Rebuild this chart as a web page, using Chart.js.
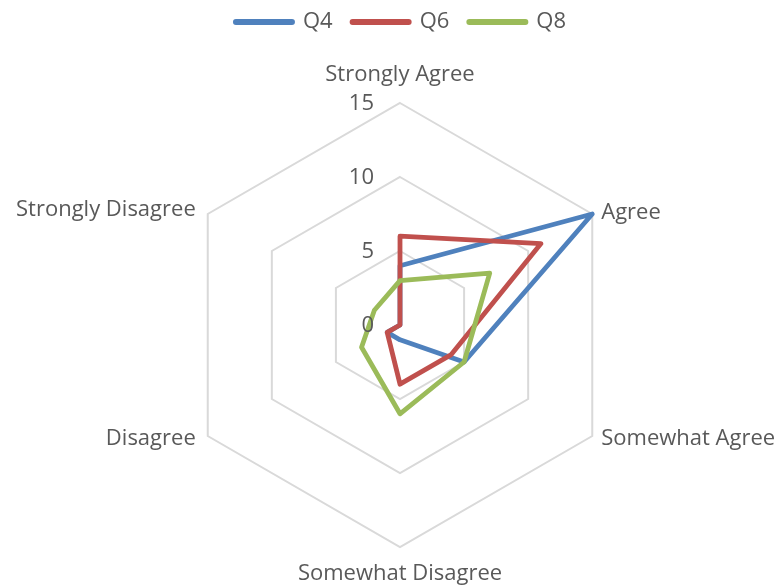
<!DOCTYPE html>
<html><head><meta charset="utf-8">
<script src="https://cdn.jsdelivr.net/npm/chart.js@4"></script>
<style>html,body{margin:0;padding:0;background:#fff;overflow:hidden}</style>
</head><body>
<canvas id="c" width="782" height="587"></canvas>
<script>
const categories = ['Strongly Agree','Agree','Somewhat Agree','Somewhat Disagree','Disagree','Strongly Disagree'];
const seriesNames = ['Q4','Q6','Q8'];
const q4 = [4, 15, 5, 1, 1, 0];
const q6 = [6, 11, 4, 4, 1, 0];
const q8 = [3, 7, 5, 6, 3, 2];
const tickValues = [0, 5, 10, 15];

const colors = ['#4F81BD', '#C0504D', '#9BBB59'];
const textColor = '#595959';
const FAMILY = '"Open Sans", "DejaVu Sans", sans-serif';

const mctx = document.createElement('canvas').getContext('2d');
mctx.font = '20px ' + FAMILY;
const FS = Math.round(20 * 180 / mctx.measureText('Strongly Disagree').width * 2) / 2;

const labelPlugin = {
  id: 'customLabels',
  afterDraw(chart) {
    const s = chart.scales.r;
    const ctx = chart.ctx;
    ctx.save();
    ctx.font = FS + 'px ' + FAMILY;
    ctx.fillStyle = textColor;
    ctx.textAlign = 'right';
    ctx.textBaseline = 'middle';
    s.ticks.forEach(t => {
      const y = s.yCenter - s.getDistanceFromCenterForValue(t.value);
      ctx.fillText(String(t.value), s.xCenter - 26, y + 1);
    });
    chart.data.labels.forEach((lab, i) => {
      const p = s.getPointPosition(i, s.drawingArea);
      const dx = p.x - s.xCenter, dy = p.y - s.yCenter;
      let x = p.x, y = p.y;
      if (Math.abs(dx) < 1) { ctx.textAlign = 'center'; y += dy < 0 ? -28 : 27; }
      else if (dx > 0) { ctx.textAlign = 'left'; x += 9; y += dy < 0 ? -1 : 3; }
      else { ctx.textAlign = 'right'; x -= 12; y += dy < 0 ? -4 : 3; }
      ctx.fillText(lab, x, y);
    });
    ctx.restore();
  }
};

const seriesData = [q4, q6, q8];
const datasets = seriesNames.map((name, i) => ({
  label: name,
  data: seriesData[i],
  borderColor: colors[i],
  backgroundColor: colors[i],
  borderWidth: 4.8,
  pointRadius: 0,
  pointHoverRadius: 0,
  fill: false,
  tension: 0,
  borderJoinStyle: 'round',
  borderCapStyle: 'round',
  order: seriesNames.length - i,
  clip: false
}));

new Chart(document.getElementById('c'), {
  type: 'radar',
  data: { labels: categories, datasets },
  options: {
    responsive: false,
    animation: false,
    layout: { padding: { top: -9, left: 20 } },
    plugins: {
      tooltip: { enabled: false },
      legend: {
        position: 'top',
        labels: {
          usePointStyle: true,
          pointStyle: 'line',
          pointStyleWidth: 56,
          padding: 20,
          color: textColor,
          font: { family: FAMILY, size: FS },
          generateLabels(chart) {
            const items = Chart.defaults.plugins.legend.labels.generateLabels(chart);
            items.forEach(it => { it.lineWidth = 6; it.lineCap = 'round'; });
            return items.sort((a, b) => a.datasetIndex - b.datasetIndex);
          }
        }
      }
    },
    scales: {
      r: {
        min: tickValues[0],
        max: tickValues[tickValues.length - 1],
        ticks: { display: false, stepSize: tickValues[1] - tickValues[0] },
        grid: { color: '#D9D9D9', lineWidth: 2, circular: false },
        angleLines: { display: false },
        pointLabels: { display: false },
        afterFit(scale) { scale.xCenter = 400; scale.yCenter = 325; scale.drawingArea = 222; }
      }
    }
  },
  plugins: [labelPlugin]
});
</script>
</body></html>
